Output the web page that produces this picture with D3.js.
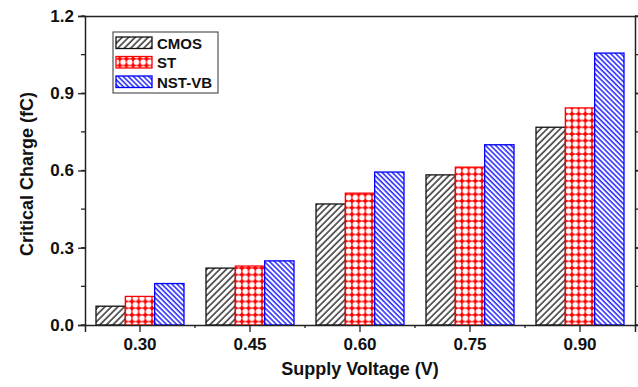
<!DOCTYPE html>
<html>
<head>
<meta charset="utf-8">
<script src="https://cdn.jsdelivr.net/npm/d3@7"></script>
<style>
  body { margin: 0; background: #fff; }
  svg { display: block; }
</style>
</head>
<body>
<svg id="chart"></svg>
<script>
const voltages = ['0.30', '0.45', '0.60', '0.75', '0.90'];
const seriesNames = ['CMOS', 'ST', 'NST-VB'];
const cmos = [0.073, 0.221, 0.470, 0.583, 0.768];
const st = [0.111, 0.229, 0.512, 0.613, 0.843];
const nstvb = [0.161, 0.249, 0.594, 0.700, 1.056];
const yTicks = [0.0, 0.3, 0.6, 0.9, 1.2];

var w = 638, h = 387;
var margin = {left: 85, right: 3, top: 16, bottom: 62};
var font = '"Liberation Sans", Arial, sans-serif';

var svg = d3.select('#chart').attr('width', w).attr('height', h);

// patterns
var defs = svg.append('defs');
var p1 = defs.append('pattern').attr('id', 'pCmos')
    .attr('patternUnits', 'userSpaceOnUse').attr('width', 4.6).attr('height', 10)
    .attr('patternTransform', 'rotate(45)');
p1.append('rect').attr('width', 4.6).attr('height', 10).attr('fill', '#fff');
p1.append('line').attr('x1', 1).attr('x2', 1).attr('y1', 0).attr('y2', 10)
    .attr('stroke', '#111').attr('stroke-width', 1.3);

var p2 = defs.append('pattern').attr('id', 'pSt')
    .attr('patternUnits', 'userSpaceOnUse').attr('width', 6.7).attr('height', 6.7);
p2.append('rect').attr('width', 6.7).attr('height', 6.7).attr('fill', '#ff0000');
p2.append('circle').attr('cx', 3.35).attr('cy', 3.35).attr('r', 2.8).attr('fill', '#fff');

var p3 = defs.append('pattern').attr('id', 'pNst')
    .attr('patternUnits', 'userSpaceOnUse').attr('width', 3.6).attr('height', 10)
    .attr('patternTransform', 'rotate(-45)');
p3.append('rect').attr('width', 3.6).attr('height', 10).attr('fill', '#fff');
p3.append('line').attr('x1', 1).attr('x2', 1).attr('y1', 0).attr('y2', 10)
    .attr('stroke', '#0000ff').attr('stroke-width', 1.3);

var fills = ['url(#pCmos)', 'url(#pSt)', 'url(#pNst)'];
var strokes = ['#111', '#ff0000', '#0000ff'];

var xs = d3.scaleBand().domain(voltages).range([margin.left, w - margin.right]).padding(0);
var xin = d3.scaleBand().domain(seriesNames)
    .range([xs.bandwidth() * 0.1, xs.bandwidth() * 0.9]);
var ys = d3.scaleLinear().domain([0, 1.2]).range([h - margin.bottom, margin.top]);

var table = voltages.map(function(v, i) {
  return {v: v, vals: [cmos[i], st[i], nstvb[i]]};
});

// bars
svg.append('g').selectAll('g')
  .data(table)
  .enter().append('g')
  .attr('transform', function(d) { return 'translate(' + xs(d.v) + ',0)'; })
  .selectAll('rect')
  .data(function(d) { return d.vals; })
  .enter().append('rect')
  .attr('x', function(d, i) { return xin(seriesNames[i]); })
  .attr('width', xin.bandwidth())
  .attr('y', function(d) { return ys(d); })
  .attr('height', function(d) { return ys(0) - ys(d); })
  .attr('fill', function(d, i) { return fills[i]; })
  .attr('stroke', function(d, i) { return strokes[i]; })
  .attr('stroke-width', 1.3);

// axes
var yMinor = d3.range(0, 1.21, 0.15);
var axisColor = '#222';

var left = svg.append('g').attr('transform', 'translate(' + margin.left + ',0)')
  .call(d3.axisLeft(ys).tickValues(yTicks).tickFormat(d3.format('.1f')).tickSize(7).tickPadding(4));
left.append('g').selectAll('line').data(yMinor).enter().append('line')
  .attr('x1', -4).attr('x2', 0).attr('y1', ys).attr('y2', ys);

var right = svg.append('g').attr('transform', 'translate(' + (w - margin.right) + ',0)')
  .call(d3.axisRight(ys).tickValues(yTicks).tickFormat('').tickSize(7));
right.append('g').selectAll('line').data(yMinor).enter().append('line')
  .attr('x1', 0).attr('x2', 4).attr('y1', ys).attr('y2', ys);

var bottom = svg.append('g').attr('transform', 'translate(0,' + (h - margin.bottom) + ')')
  .call(d3.axisBottom(xs).tickSize(7).tickPadding(6));
bottom.append('g').selectAll('line').data(voltages.slice(1)).enter().append('line')
  .attr('x1', function(d) { return xs(d); }).attr('x2', function(d) { return xs(d); })
  .attr('y1', 0).attr('y2', 3);

svg.append('g').attr('transform', 'translate(0,' + margin.top + ')')
  .call(d3.axisTop(xs).tickSize(0).tickFormat(''));

svg.selectAll('.domain').attr('stroke', axisColor).attr('stroke-width', 1.5);
svg.selectAll('g line').filter(function() { return !this.closest('pattern'); })
  .attr('stroke', axisColor).attr('stroke-width', 1.3);
svg.selectAll('.tick text')
  .style('font', 'bold 17px ' + font).attr('fill', '#111');

// axis titles
svg.append('text')
  .attr('transform', 'translate(33,174) rotate(-90)')
  .attr('text-anchor', 'middle')
  .style('font', 'bold 18px ' + font)
  .attr('fill', '#111')
  .text('Critical Charge (fC)');

svg.append('text')
  .attr('x', (margin.left + w - margin.right) / 2)
  .attr('y', 375)
  .attr('text-anchor', 'middle')
  .style('font', 'bold 18px ' + font)
  .attr('fill', '#111')
  .text('Supply Voltage (V)');

// legend
var lg = svg.append('g').attr('transform', 'translate(113,32)');
lg.append('rect').attr('width', 105).attr('height', 61)
  .attr('fill', '#fff').attr('stroke', '#333').attr('stroke-width', 1);
seriesNames.forEach(function(s, i) {
  var y = 5 + i * 19.5;
  lg.append('rect').attr('x', 3).attr('y', y).attr('width', 36).attr('height', 11.5)
    .attr('fill', fills[i]).attr('stroke', strokes[i]).attr('stroke-width', 1.3);
  lg.append('text').attr('x', 44).attr('y', y + 11.5)
    .style('font', 'bold 15px ' + font).attr('fill', '#111').text(s);
});
</script>
</body>
</html>
